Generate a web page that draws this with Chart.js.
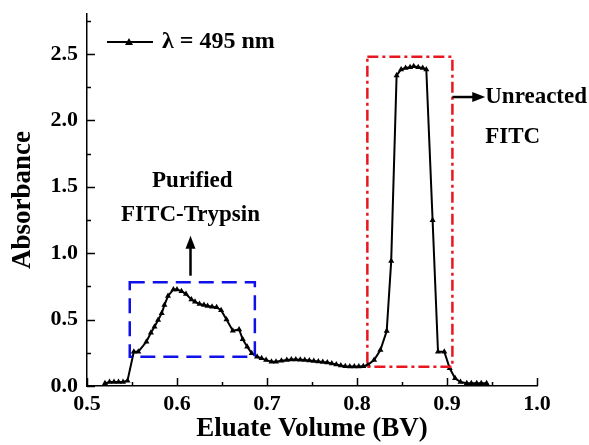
<!DOCTYPE html>
<html>
<head>
<meta charset="utf-8">
<script src="https://cdn.jsdelivr.net/npm/chart.js@4.4.1/dist/chart.umd.min.js"></script>
<style>
  html, body { margin: 0; padding: 0; background: #fff; }
  #wrap { width: 589px; height: 445px; }
</style>
</head>
<body>
<div id="wrap"><canvas id="chart_canvas" width="589" height="445"></canvas></div>
<script>
// eluate volume (BV) and absorbance at 495 nm
var volumes = [
  0.520, 0.525, 0.530, 0.535, 0.540, 0.545,
  0.552, 0.557, 0.566, 0.571, 0.575, 0.579, 0.583, 0.586, 0.590, 0.596,
  0.600, 0.605, 0.610, 0.616, 0.620, 0.625, 0.630, 0.634, 0.639, 0.644,
  0.649, 0.655, 0.662, 0.669, 0.673, 0.678, 0.683, 0.689, 0.694, 0.699,
  0.705, 0.710, 0.716, 0.722, 0.727, 0.732, 0.737, 0.742, 0.747, 0.752,
  0.757, 0.762, 0.767, 0.772, 0.777, 0.782, 0.787, 0.792, 0.797, 0.802,
  0.807, 0.812, 0.819, 0.826, 0.833, 0.838, 0.844, 0.849, 0.854, 0.859,
  0.863, 0.868, 0.873, 0.877, 0.884, 0.890, 0.897, 0.903, 0.909, 0.915,
  0.922, 0.927, 0.933, 0.938, 0.944
];
var absorbance = [
  0.020, 0.030, 0.030, 0.030, 0.030, 0.040,
  0.258, 0.258, 0.333, 0.401, 0.446, 0.496, 0.547, 0.609, 0.677, 0.727,
  0.727, 0.714, 0.692, 0.652, 0.634, 0.617, 0.609, 0.602, 0.596, 0.592,
  0.571, 0.501, 0.416, 0.426, 0.351, 0.296, 0.246, 0.220, 0.208, 0.195,
  0.183, 0.183, 0.190, 0.195, 0.199, 0.199, 0.198, 0.195, 0.192, 0.188,
  0.184, 0.180, 0.177, 0.169, 0.162, 0.155, 0.149, 0.146, 0.146, 0.146,
  0.148, 0.160, 0.195, 0.271, 0.414, 0.940, 2.338, 2.383, 2.393, 2.400,
  2.406, 2.400, 2.393, 2.383, 1.248, 0.258, 0.258, 0.133, 0.058, 0.030,
  0.020, 0.020, 0.020, 0.020, 0.020
];

var xTickLabels = ['0.5', '0.6', '0.7', '0.8', '0.9', '1.0'];
var yTickLabels = ['0.0', '0.5', '1.0', '1.5', '2.0', '2.5'];
var seriesLabel = '\u03BB = 495 nm';
var xTitle = 'Eluate Volume (BV)';
var yTitle = 'Absorbance';
var peak1Text = ['Purified', 'FITC-Trypsin'];
var peak2Text = ['Unreacted', 'FITC'];

var FONT = "'Liberation Serif', 'Times New Roman', serif";

var points = volumes.map(function(v, i){ return {x: v, y: absorbance[i]}; });

// major ticks from the label arrays plus minor ticks half way between
function tickValues(labels){
  var major = labels.map(Number);
  var step = major[1] - major[0];
  var out = [];
  major.forEach(function(v){
    out.push(v);
    out.push(+(v + step / 2).toFixed(3));
  });
  return out;
}
var xTicks = tickValues(xTickLabels).filter(function(v){ return v <= 1.0001; });
var yTicks = tickValues(yTickLabels);

function isMajor(v, labels){
  return labels.some(function(l){ return Math.abs(Number(l) - v) < 1e-6; });
}

var extras = {
  id: 'extras',
  afterDraw: function(chart){
    var ctx = chart.ctx;
    var xs = chart.scales.x, ys = chart.scales.y;
    var area = chart.chartArea;
    ctx.save();
    ctx.strokeStyle = '#000';
    ctx.lineWidth = 1.5;

    // inward ticks
    xTicks.forEach(function(v){
      var px = Math.round(xs.getPixelForValue(v)) + 0.5;
      var len = isMajor(v, xTickLabels) ? 8 : 4;
      ctx.beginPath();
      ctx.moveTo(px, area.bottom);
      ctx.lineTo(px, area.bottom - len);
      ctx.stroke();
    });
    yTicks.forEach(function(v){
      var py = Math.round(ys.getPixelForValue(v)) + 0.5;
      var len = isMajor(v, yTickLabels) ? 8 : 4;
      ctx.beginPath();
      ctx.moveTo(area.left, py);
      ctx.lineTo(area.left + len, py);
      ctx.stroke();
    });

    // legend
    var ly = 42;
    ctx.lineWidth = 2.2;
    ctx.beginPath();
    ctx.moveTo(107, ly);
    ctx.lineTo(153, ly);
    ctx.stroke();
    ctx.fillStyle = '#000';
    ctx.beginPath();
    ctx.moveTo(129, ly - 4);
    ctx.lineTo(133, ly + 3);
    ctx.lineTo(125, ly + 3);
    ctx.closePath();
    ctx.fill();
    ctx.font = 'bold 24px ' + FONT;
    ctx.textBaseline = 'middle';
    ctx.textAlign = 'left';
    ctx.fillText(seriesLabel, 162, ly);

    // blue dashed box round the first peak
    ctx.strokeStyle = '#1010e8';
    ctx.lineWidth = 2.5;
    ctx.setLineDash([15, 8]);
    var bx1 = xs.getPixelForValue(0.5475), bx2 = xs.getPixelForValue(0.6865);
    var by1 = ys.getPixelForValue(0.78), by2 = ys.getPixelForValue(0.22);
    ctx.strokeRect(bx1, by1, bx2 - bx1, by2 - by1);

    // red dash-dot box round the second peak
    ctx.strokeStyle = '#e8161e';
    ctx.setLineDash([11, 4, 3, 4]);
    var rx1 = xs.getPixelForValue(0.8115), rx2 = xs.getPixelForValue(0.906);
    var ry1 = ys.getPixelForValue(2.478), ry2 = ys.getPixelForValue(0.145);
    ctx.strokeRect(rx1, ry1, rx2 - rx1, ry2 - ry1);
    ctx.setLineDash([]);

    // arrows
    ctx.strokeStyle = '#000';
    ctx.fillStyle = '#000';
    ctx.lineWidth = 2.5;
    var ax = xs.getPixelForValue(0.615);
    var ay1 = ys.getPixelForValue(0.83), ay2 = ys.getPixelForValue(1.13);
    ctx.beginPath();
    ctx.moveTo(ax, ay1);
    ctx.lineTo(ax, ay2 + 8);
    ctx.stroke();
    ctx.beginPath();
    ctx.moveTo(ax, ay2);
    ctx.lineTo(ax + 5, ay2 + 13);
    ctx.lineTo(ax - 5, ay2 + 13);
    ctx.closePath();
    ctx.fill();

    var hy = ys.getPixelForValue(2.175);
    var hx1 = xs.getPixelForValue(0.906), hx2 = xs.getPixelForValue(0.9425);
    ctx.beginPath();
    ctx.moveTo(hx1, hy);
    ctx.lineTo(hx2 - 8, hy);
    ctx.stroke();
    ctx.beginPath();
    ctx.moveTo(hx2, hy);
    ctx.lineTo(hx2 - 13, hy - 5);
    ctx.lineTo(hx2 - 13, hy + 5);
    ctx.closePath();
    ctx.fill();

    // annotation text
    ctx.font = 'bold 23px ' + FONT;
    ctx.textAlign = 'center';
    ctx.fillText(peak1Text[0], xs.getPixelForValue(0.617), ys.getPixelForValue(1.545));
    ctx.fillText(peak1Text[1], xs.getPixelForValue(0.615), ys.getPixelForValue(1.29));
    ctx.textAlign = 'left';
    ctx.fillText(peak2Text[0], hx2, hy);
    ctx.fillText(peak2Text[1], hx2, ys.getPixelForValue(1.875));
    ctx.restore();
  }
};

function noPad(s){
  s.paddingTop = 0;
  s.paddingBottom = 0;
  s.paddingLeft = 0;
  s.paddingRight = 0;
}

var chart = new Chart(document.getElementById('chart_canvas').getContext('2d'), {
  type: 'scatter',
  data: {
    datasets: [{
      label: seriesLabel,
      data: points,
      showLine: true,
      borderColor: '#000',
      borderWidth: 2,
      tension: 0,
      pointStyle: 'triangle',
      pointRadius: 3.5,
      pointBackgroundColor: '#000',
      pointBorderColor: '#000',
      pointBorderWidth: 0
    }]
  },
  options: {
    responsive: false,
    animation: false,
    devicePixelRatio: 1,
    layout: { padding: { left: 0, right: 52, top: 14, bottom: 0 } },
    plugins: { legend: { display: false }, tooltip: { enabled: false } },
    scales: {
      x: {
        type: 'linear',
        position: 'bottom',
        min: 0.5,
        max: 1.0,
        afterBuildTicks: function(s){ s.ticks = xTicks.map(function(v){ return {value: v}; }); },
        afterFit: function(s){ s.height = 59; noPad(s); },
        grid: { display: false, drawTicks: false },
        border: { display: true, color: '#000', width: 1.5 },
        ticks: {
          autoSkip: false,
          maxRotation: 0,
          padding: 5,
          color: '#000',
          font: { family: FONT, size: 22, weight: 'bold' },
          callback: function(v){ return isMajor(v, xTickLabels) ? v.toFixed(1) : ''; }
        },
        title: {
          display: true,
          text: xTitle,
          color: '#000',
          font: { family: FONT, size: 27, weight: 'bold' },
          padding: { top: 0, bottom: 0 }
        }
      },
      y: {
        type: 'linear',
        min: 0,
        max: 2.8,
        afterBuildTicks: function(s){ s.ticks = yTicks.map(function(v){ return {value: v}; }); },
        afterFit: function(s){ s.width = 87; noPad(s); },
        grid: { display: false, drawTicks: false },
        border: { display: true, color: '#000', width: 1.5 },
        ticks: {
          autoSkip: false,
          padding: 9,
          color: '#000',
          font: { family: FONT, size: 22, weight: 'bold' },
          callback: function(v){ return isMajor(v, yTickLabels) ? v.toFixed(1) : ''; }
        },
        title: {
          display: true,
          text: yTitle,
          color: '#000',
          font: { family: FONT, size: 27, weight: 'bold' },
          padding: { top: 7, bottom: 0 }
        }
      }
    }
  },
  plugins: [extras]
});
</script>
</body>
</html>
